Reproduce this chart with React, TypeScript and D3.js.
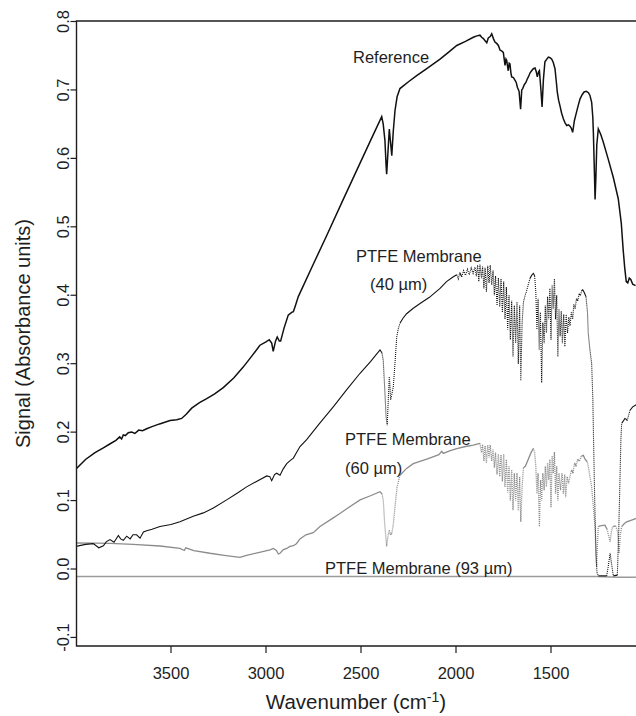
import * as d3 from "d3";

// axis ticks
const xTicks = [3500, 3000, 2500, 2000, 1500];
const yTicks = [-0.1, 0, 0.1, 0.2, 0.3, 0.4, 0.5, 0.6, 0.7, 0.8];

// [wavenumber, absorbance]
const reference: [number, number][] = [
  [4000, 0.146], [3950, 0.160], [3900, 0.170], [3856, 0.177], [3820, 0.183], [3790, 0.188],
  [3770, 0.193], [3760, 0.190], [3751, 0.196], [3740, 0.195], [3725, 0.199], [3707, 0.200],
  [3690, 0.198], [3670, 0.203], [3650, 0.202], [3628, 0.205], [3600, 0.208], [3560, 0.212],
  [3505, 0.217], [3470, 0.218], [3444, 0.220], [3420, 0.226], [3391, 0.235], [3350, 0.243],
  [3312, 0.249], [3270, 0.256], [3225, 0.265], [3170, 0.279], [3120, 0.295], [3075, 0.311],
  [3032, 0.327], [3000, 0.332], [2983, 0.335], [2970, 0.330], [2962, 0.318], [2950, 0.333],
  [2941, 0.339], [2930, 0.333], [2923, 0.333], [2905, 0.352], [2883, 0.371], [2865, 0.375],
  [2856, 0.376], [2845, 0.385], [2830, 0.398], [2750, 0.446], [2681, 0.487], [2600, 0.536],
  [2505, 0.593], [2450, 0.626], [2391, 0.661], [2383, 0.650], [2374, 0.626], [2368, 0.590],
  [2365, 0.577], [2360, 0.600], [2351, 0.643], [2345, 0.625], [2338, 0.604], [2330, 0.640],
  [2321, 0.670], [2310, 0.690], [2295, 0.702], [2250, 0.712], [2207, 0.721], [2150, 0.732],
  [2084, 0.745], [2040, 0.755], [1996, 0.765], [1950, 0.771], [1909, 0.777], [1890, 0.779],
  [1874, 0.780], [1865, 0.777], [1856, 0.775], [1847, 0.772], [1838, 0.769], [1830, 0.776],
  [1820, 0.778], [1812, 0.782], [1803, 0.775], [1795, 0.770], [1786, 0.768], [1777, 0.765],
  [1768, 0.758], [1760, 0.757], [1751, 0.755], [1742, 0.736], [1737, 0.745], [1733, 0.743],
  [1729, 0.735], [1725, 0.728], [1720, 0.739], [1716, 0.738], [1711, 0.725], [1707, 0.719],
  [1698, 0.718], [1689, 0.714], [1683, 0.711], [1677, 0.704], [1668, 0.698], [1660, 0.672],
  [1654, 0.700], [1649, 0.702], [1640, 0.708], [1632, 0.711], [1625, 0.716], [1619, 0.719],
  [1610, 0.725], [1602, 0.728], [1593, 0.731], [1584, 0.732], [1578, 0.727], [1572, 0.719],
  [1566, 0.726], [1561, 0.728], [1553, 0.700], [1547, 0.675], [1540, 0.715], [1532, 0.741],
  [1522, 0.745], [1514, 0.748], [1505, 0.747], [1496, 0.745], [1488, 0.740], [1479, 0.731],
  [1472, 0.712], [1467, 0.697], [1460, 0.685], [1453, 0.677], [1444, 0.666], [1435, 0.658],
  [1426, 0.652], [1417, 0.648], [1408, 0.649], [1400, 0.647], [1393, 0.644], [1386, 0.638],
  [1377, 0.655], [1368, 0.665], [1357, 0.677], [1347, 0.687], [1336, 0.693], [1326, 0.697],
  [1314, 0.698], [1303, 0.696], [1295, 0.692], [1286, 0.682], [1280, 0.660], [1277, 0.638],
  [1272, 0.585], [1268, 0.540], [1264, 0.570], [1259, 0.620], [1251, 0.643], [1238, 0.635],
  [1225, 0.624], [1200, 0.600], [1172, 0.572], [1146, 0.541], [1130, 0.505], [1120, 0.466],
  [1112, 0.440], [1104, 0.420], [1096, 0.418], [1088, 0.425], [1080, 0.423], [1070, 0.416],
  [1055, 0.414],
];

const ptfe40: [number, number][] = [
  [4000, 0.033], [3950, 0.036], [3909, 0.037], [3880, 0.031], [3856, 0.034], [3840, 0.040],
  [3821, 0.043], [3800, 0.039], [3777, 0.049], [3765, 0.044], [3751, 0.042], [3733, 0.048],
  [3715, 0.044], [3700, 0.050], [3681, 0.050], [3663, 0.045], [3645, 0.054], [3628, 0.056],
  [3600, 0.058], [3558, 0.062], [3500, 0.065], [3453, 0.069], [3383, 0.077], [3330, 0.082],
  [3277, 0.089], [3207, 0.101], [3150, 0.111], [3102, 0.120], [3050, 0.128], [2996, 0.136],
  [2980, 0.135], [2970, 0.129], [2955, 0.138], [2944, 0.140], [2926, 0.137], [2910, 0.146],
  [2891, 0.154], [2870, 0.159], [2856, 0.162], [2840, 0.170], [2821, 0.179], [2786, 0.189],
  [2720, 0.212], [2646, 0.237], [2575, 0.262], [2505, 0.286], [2450, 0.303], [2400, 0.320],
  [2390, 0.316], [2383, 0.305], [2374, 0.257], [2368, 0.222], [2362, 0.210], [2356, 0.250],
  [2351, 0.281], [2347, 0.265], [2344, 0.247], [2338, 0.255], [2330, 0.266], [2320, 0.305],
  [2312, 0.339], [2303, 0.352], [2295, 0.359], [2280, 0.366], [2260, 0.373], [2225, 0.381],
  [2189, 0.388], [2140, 0.397], [2084, 0.410], [2050, 0.420], [2014, 0.427], [1996, 0.430],
  [1988, 0.424], [1980, 0.433], [1970, 0.427], [1960, 0.436], [1950, 0.429], [1940, 0.438],
  [1930, 0.430], [1920, 0.440], [1910, 0.432], [1900, 0.441], [1893, 0.428], [1886, 0.444],
  [1880, 0.420], [1874, 0.445], [1866, 0.425], [1860, 0.442], [1853, 0.410], [1847, 0.440],
  [1840, 0.405], [1833, 0.443], [1826, 0.418], [1820, 0.444], [1812, 0.415], [1805, 0.436],
  [1798, 0.400], [1792, 0.428], [1784, 0.385], [1777, 0.425], [1770, 0.383], [1763, 0.424],
  [1756, 0.375], [1749, 0.420], [1742, 0.365], [1735, 0.412], [1728, 0.350], [1721, 0.400],
  [1714, 0.335], [1707, 0.392], [1700, 0.310], [1693, 0.385], [1686, 0.330], [1679, 0.390],
  [1672, 0.300], [1665, 0.385], [1659, 0.275], [1652, 0.360], [1645, 0.390], [1638, 0.398],
  [1630, 0.405], [1620, 0.415], [1610, 0.425], [1600, 0.430], [1593, 0.432], [1586, 0.428],
  [1580, 0.405], [1574, 0.350], [1568, 0.395], [1562, 0.320], [1556, 0.375], [1549, 0.272],
  [1543, 0.360], [1536, 0.330], [1530, 0.385], [1524, 0.345], [1518, 0.398], [1512, 0.365],
  [1506, 0.410], [1500, 0.335], [1494, 0.415], [1488, 0.380], [1482, 0.424], [1476, 0.365],
  [1470, 0.400], [1464, 0.310], [1458, 0.380], [1452, 0.340], [1446, 0.377], [1440, 0.330],
  [1433, 0.372], [1427, 0.325], [1420, 0.372], [1413, 0.345], [1406, 0.368], [1400, 0.355],
  [1393, 0.375], [1386, 0.365], [1380, 0.387], [1373, 0.380], [1366, 0.395], [1359, 0.392],
  [1352, 0.402], [1345, 0.400], [1338, 0.407], [1333, 0.408], [1325, 0.404], [1316, 0.398],
  [1308, 0.375], [1304, 0.345], [1295, 0.320], [1286, 0.300], [1280, 0.250], [1277, 0.203],
  [1270, 0.100], [1263, 0.020], [1258, -0.005], [1251, -0.010], [1230, -0.010], [1207, -0.010],
  [1198, 0.005], [1189, 0.023], [1180, 0.005], [1172, -0.010], [1151, -0.009], [1144, 0.050],
  [1137, 0.130], [1132, 0.190], [1128, 0.213], [1120, 0.216], [1111, 0.220], [1105, 0.219],
  [1099, 0.217], [1092, 0.224], [1084, 0.232], [1070, 0.237], [1058, 0.239], [1050, 0.240],
];

const ptfe60: [number, number][] = [
  [4000, 0.038], [3900, 0.0378], [3821, 0.0375], [3700, 0.036], [3558, 0.0336], [3453, 0.030],
  [3430, 0.027], [3422, 0.031], [3380, 0.027], [3295, 0.023], [3220, 0.020], [3137, 0.017],
  [3102, 0.020], [3040, 0.024], [2979, 0.028], [2962, 0.030], [2945, 0.027], [2935, 0.022],
  [2926, 0.023], [2910, 0.028], [2891, 0.030], [2874, 0.033], [2856, 0.034], [2840, 0.037],
  [2821, 0.044], [2790, 0.050], [2751, 0.053], [2716, 0.062], [2650, 0.074], [2611, 0.081],
  [2575, 0.088], [2505, 0.101], [2450, 0.107], [2400, 0.113], [2390, 0.110], [2383, 0.101],
  [2375, 0.065], [2365, 0.033], [2358, 0.048], [2351, 0.057], [2345, 0.050], [2338, 0.052],
  [2330, 0.065], [2321, 0.091], [2310, 0.120], [2295, 0.137], [2260, 0.147], [2225, 0.154],
  [2150, 0.161], [2090, 0.167], [2075, 0.172], [2067, 0.169], [2030, 0.173], [1996, 0.176],
  [1950, 0.179], [1909, 0.181], [1874, 0.1835], [1866, 0.170], [1860, 0.182], [1853, 0.158],
  [1847, 0.180], [1840, 0.155], [1833, 0.181], [1826, 0.163], [1820, 0.181], [1812, 0.158],
  [1805, 0.175], [1798, 0.148], [1792, 0.170], [1784, 0.138], [1777, 0.168], [1770, 0.135],
  [1763, 0.167], [1756, 0.128], [1749, 0.168], [1742, 0.120], [1735, 0.160], [1728, 0.112],
  [1721, 0.150], [1714, 0.100], [1707, 0.145], [1700, 0.086], [1693, 0.140], [1686, 0.100],
  [1679, 0.140], [1672, 0.085], [1665, 0.135], [1659, 0.069], [1652, 0.120], [1645, 0.148],
  [1635, 0.150], [1620, 0.160], [1605, 0.170], [1593, 0.176], [1586, 0.170], [1580, 0.150],
  [1574, 0.110], [1568, 0.140], [1561, 0.062], [1555, 0.130], [1549, 0.100], [1543, 0.140],
  [1536, 0.115], [1530, 0.150], [1524, 0.120], [1518, 0.155], [1512, 0.130], [1506, 0.160],
  [1500, 0.090], [1494, 0.165], [1488, 0.140], [1482, 0.171], [1476, 0.110], [1470, 0.150],
  [1464, 0.100], [1458, 0.140], [1450, 0.115], [1442, 0.140], [1435, 0.110], [1428, 0.138],
  [1423, 0.105], [1415, 0.135], [1408, 0.125], [1400, 0.135], [1392, 0.145], [1384, 0.140],
  [1376, 0.155], [1368, 0.150], [1360, 0.160], [1350, 0.158], [1340, 0.165], [1330, 0.166],
  [1320, 0.160], [1310, 0.157], [1304, 0.150], [1295, 0.135], [1286, 0.120], [1277, 0.090],
  [1268, 0.060], [1263, 0.020], [1260, 0.003], [1255, 0.040], [1251, 0.062], [1242, 0.063],
  [1216, 0.064], [1205, 0.058], [1198, 0.050], [1189, 0.040], [1182, 0.055], [1175, 0.062],
  [1160, 0.063], [1150, 0.055], [1142, 0.023], [1135, 0.050], [1128, 0.062], [1115, 0.066],
  [1102, 0.069], [1076, 0.0715], [1050, 0.074],
];

const ptfe93: [number, number][] = [
  [4000, -0.011], [3000, -0.011], [2000, -0.011], [1260, -0.011], [1150, -0.012], [1050, -0.012],
];

const W = 636;
const H = 716;
const left = 76.5, top = 21, bottom = 646;

const x = d3.scaleLinear().domain([4000, 1500]).range([76, 551]);
const y = d3.scaleLinear().domain([0, 0.8]).range([569, 21.5]);

const line = d3
  .line<[number, number]>()
  .x((d) => x(d[0]))
  .y((d) => y(d[1]));

// split a series into runs: steep segments look dotted in the original (point plot)
function runs(data: [number, number][]) {
  const out: { dotted: boolean; pts: [number, number][] }[] = [];
  let cur: { dotted: boolean; pts: [number, number][] } | null = null;
  for (let i = 1; i < data.length; i++) {
    const dx = Math.abs(x(data[i][0]) - x(data[i - 1][0]));
    const dy = Math.abs(y(data[i][1]) - y(data[i - 1][1]));
    const dotted = dy > 2.5 * dx;
    if (!cur || cur.dotted !== dotted) {
      cur = { dotted, pts: [data[i - 1]] };
      out.push(cur);
    }
    cur.pts.push(data[i]);
  }
  return out;
}

const font = "'Liberation Sans', Arial, Helvetica, sans-serif";
const ink = "#1e1e1e";

function Series({ data, color, width }: { data: [number, number][]; color: string; width: number }) {
  return (
    <g>
      {runs(data).map((r, i) => (
        <path
          key={i}
          d={line(r.pts) || ""}
          fill="none"
          stroke={color}
          strokeWidth={width}
          strokeDasharray={r.dotted ? "1 1" : undefined}
        />
      ))}
    </g>
  );
}

export default function App() {
  return (
    <svg
      width={W}
      height={H}
      style={{ position: "absolute", left: 0, top: 0, background: "#fff" }}
      fontFamily={font}
    >
      <defs>
        <clipPath id="plot">
          <rect x={left} y={top} width={W - left} height={bottom - top} />
        </clipPath>
      </defs>

      <g clipPath="url(#plot)">
        <path d={line(ptfe93) || ""} fill="none" stroke="#9a9a9a" strokeWidth={1.6} />
        <Series data={ptfe60} color="#8c8c8c" width={1.3} />
        <Series data={ptfe40} color="#111" width={1.1} />
        <path d={line(reference) || ""} fill="none" stroke="#111" strokeWidth={1.5} />
      </g>

      {/* frame (right side is cut off in the original) */}
      <path d={`M${W},${top}H${left}V${bottom}H${W}`} fill="none" stroke={ink} strokeWidth={1.4} />

      {/* x axis */}
      {xTicks.map((t) => (
        <g key={t}>
          <line x1={x(t)} x2={x(t)} y1={bottom} y2={bottom + 7} stroke={ink} strokeWidth={1.2} />
          <text x={x(t)} y={679} textAnchor="middle" fontSize={16.5} fill={ink}>
            {t}
          </text>
        </g>
      ))}
      <text x={356} y={709} textAnchor="middle" fontSize={20.5} fill={ink}>
        Wavenumber (cm
        <tspan fontSize={14} dy={-7}>
          -1
        </tspan>
        <tspan dy={7}>)</tspan>
      </text>

      {/* y axis */}
      {yTicks.map((t) => (
        <g key={t}>
          <line x1={left - 6} x2={left} y1={y(t)} y2={y(t)} stroke={ink} strokeWidth={1.2} />
          <text
            transform={`translate(69,${y(t)}) rotate(-90)`}
            textAnchor="middle"
            fontSize={16.5}
            fill={ink}
          >
            {t.toFixed(1)}
          </text>
        </g>
      ))}
      <text
        transform={`translate(30,${(top + bottom) / 2}) rotate(-90)`}
        textAnchor="middle"
        fontSize={20}
        fill={ink}
      >
        Signal (Absorbance units)
      </text>

      {/* annotations */}
      <g fontSize={16.5} fill={ink}>
        <text x={353} y={63}>Reference</text>
        <text x={356} y={262}>PTFE Membrane</text>
        <text x={370} y={290}>(40 µm)</text>
        <text x={345} y={445}>PTFE Membrane</text>
        <text x={345} y={474}>(60 µm)</text>
        <text x={325} y={574}>PTFE Membrane (93 µm)</text>
      </g>
    </svg>
  );
}
